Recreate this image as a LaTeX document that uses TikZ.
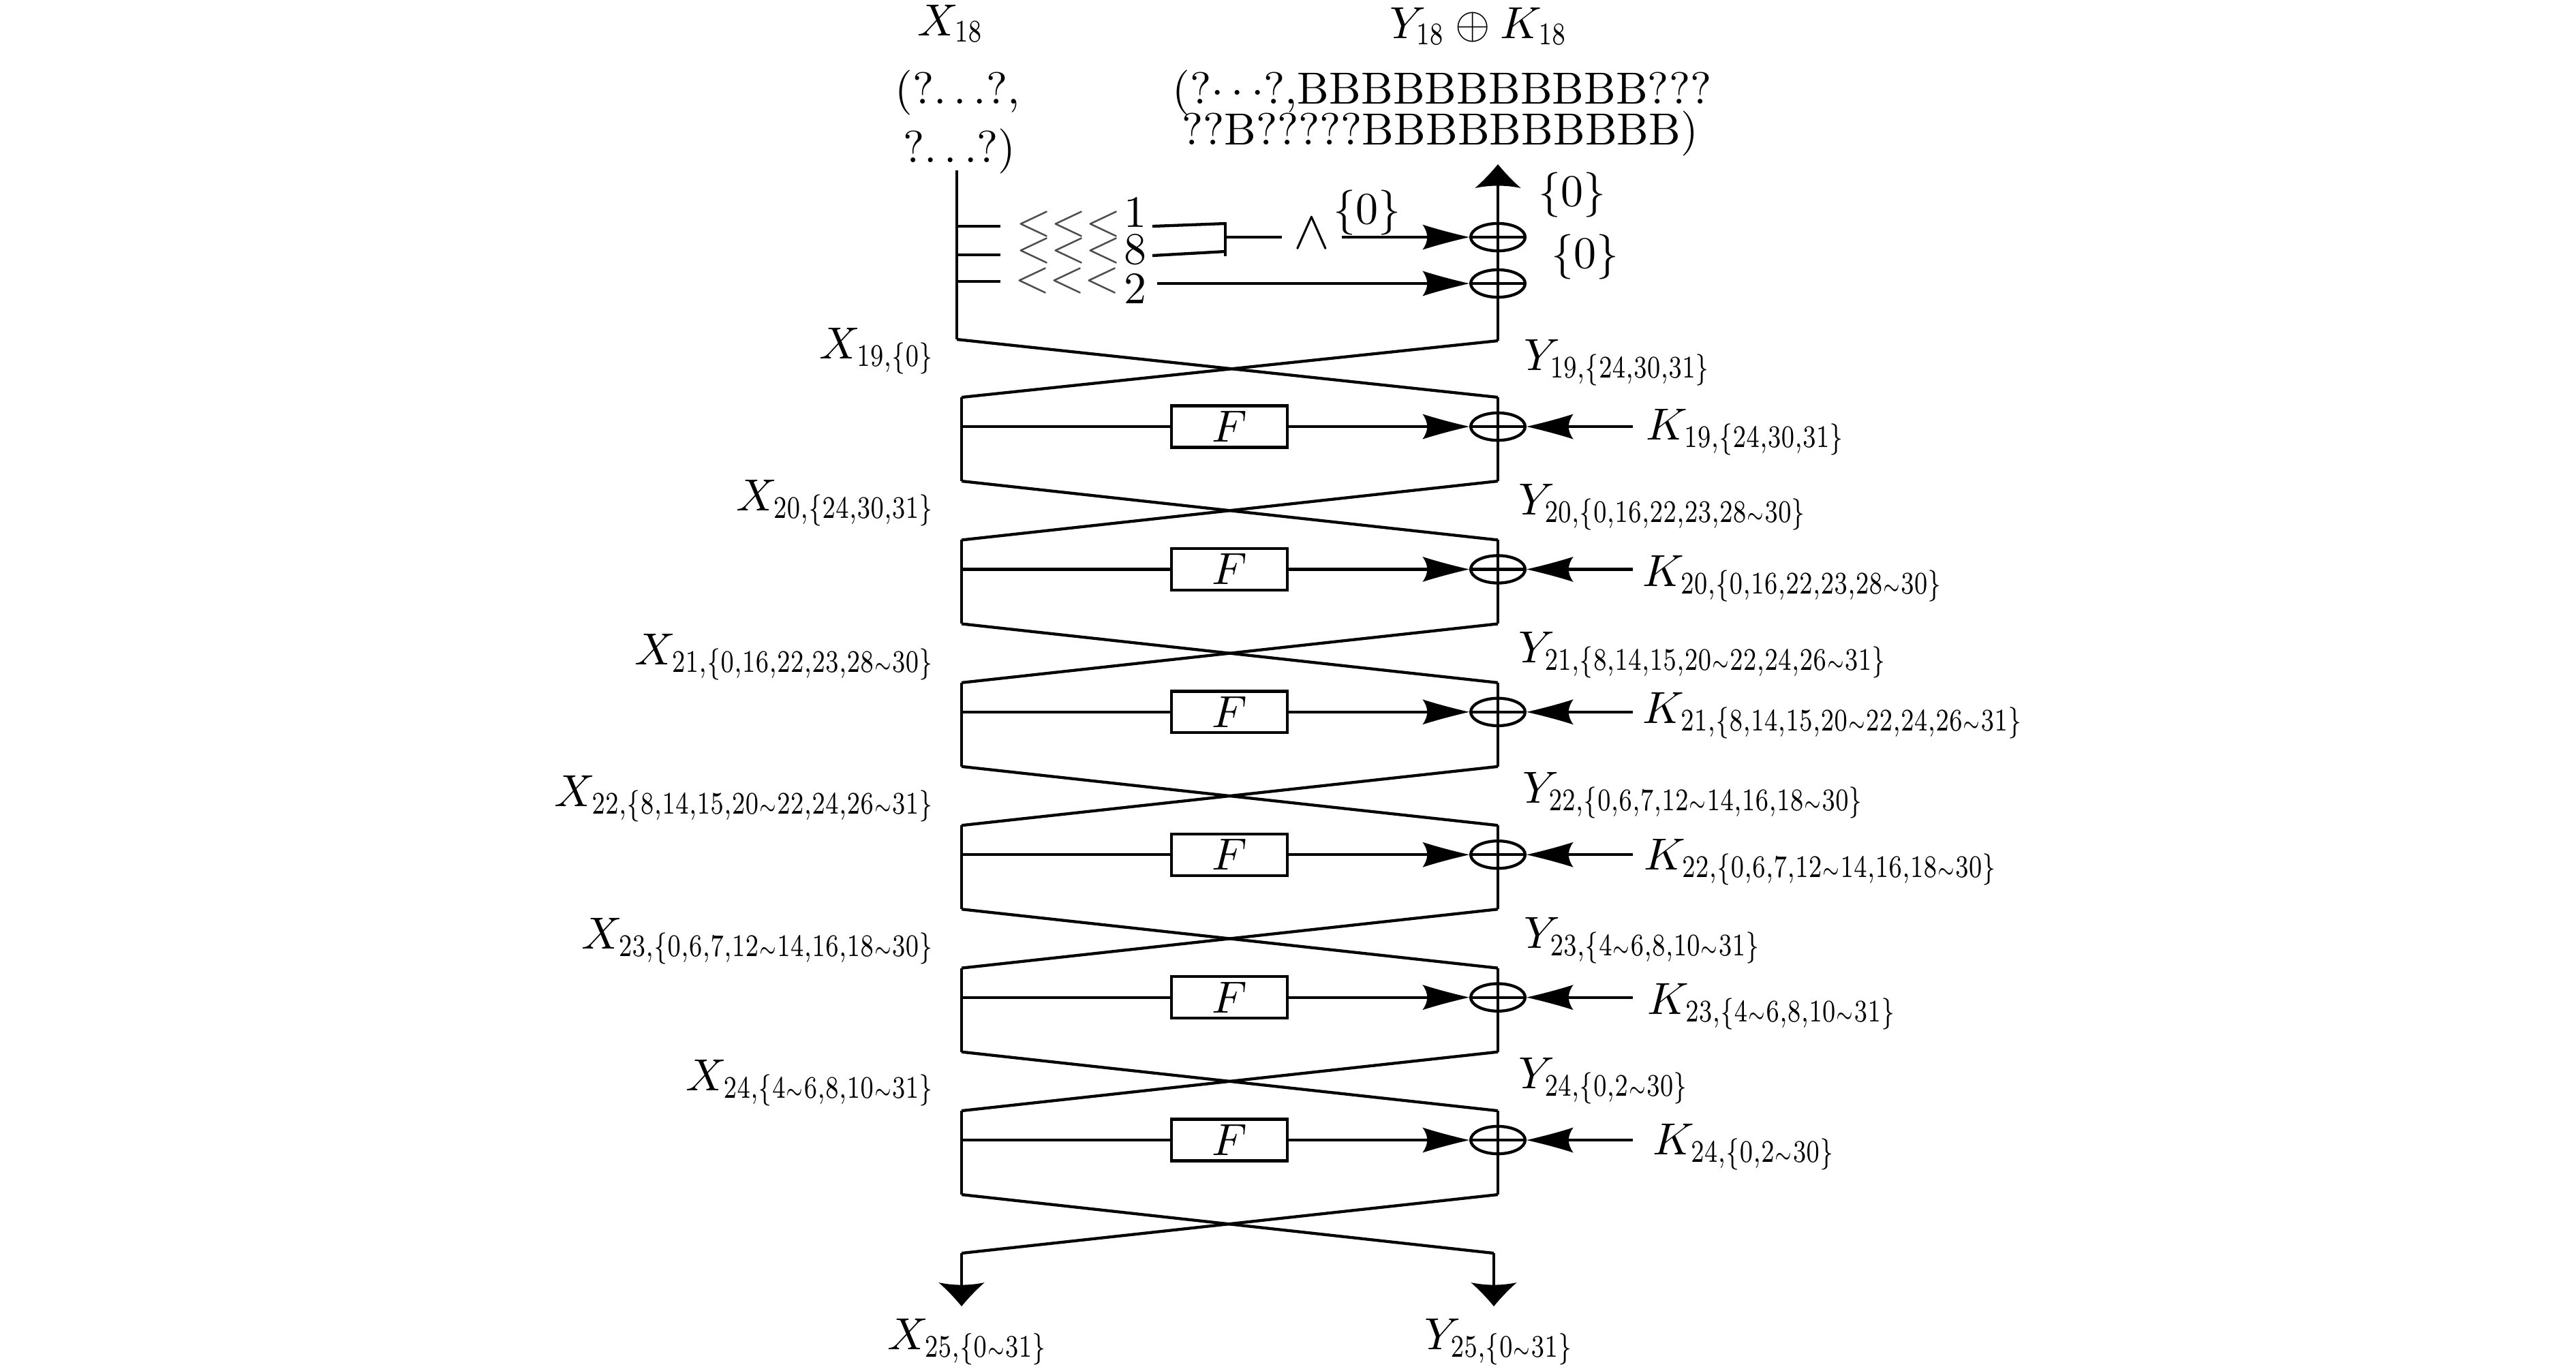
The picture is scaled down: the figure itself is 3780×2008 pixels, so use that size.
\documentclass[tikz,border=0pt]{standalone}
\usepackage{graphicx}
\usetikzlibrary{arrows.meta,shapes.geometric}

\pgfdeclarearrow{
  name = Barb,
  parameters = {\the\pgfarrowlength,\the\pgfarrowwidth},
  setup code = {
    \pgfarrowssettipend{0pt}
    \pgfarrowssetlineend{-0.6\pgfarrowlength}
    \pgfarrowssetvisualbackend{-0.9\pgfarrowlength}
    \pgfarrowssetbackend{-\pgfarrowlength}
    \pgfarrowshullpoint{0pt}{0pt}
    \pgfarrowsupperhullpoint{-\pgfarrowlength}{0.5\pgfarrowwidth}
    \pgfarrowssavethe\pgfarrowlength
    \pgfarrowssavethe\pgfarrowwidth
  },
  drawing code = {
    \pgfpathmoveto{\pgfqpoint{0pt}{0pt}}
    \pgfpathcurveto{\pgfqpoint{-0.4\pgfarrowlength}{0.17\pgfarrowwidth}}{\pgfqpoint{-0.75\pgfarrowlength}{0.35\pgfarrowwidth}}{\pgfqpoint{-\pgfarrowlength}{0.5\pgfarrowwidth}}
    \pgfpathquadraticcurveto{\pgfqpoint{-0.8\pgfarrowlength}{0pt}}{\pgfqpoint{-\pgfarrowlength}{-0.5\pgfarrowwidth}}
    \pgfpathcurveto{\pgfqpoint{-0.75\pgfarrowlength}{-0.35\pgfarrowwidth}}{\pgfqpoint{-0.4\pgfarrowlength}{-0.17\pgfarrowwidth}}{\pgfqpoint{0pt}{0pt}}
    \pgfpathclose
    \pgfusepathqfill
  },
  defaults = {length=5pt, width=3pt}
}

\newcommand\mysub[1]{\scalebox{0.75}[1]{$\scriptstyle #1$}}
\newcommand\mytl{{\scriptscriptstyle\sim}}

\begin{document}
\begin{tikzpicture}[x=0.15152pt, y=-0.15152pt, line width=0.65pt,
  lab/.style={inner sep=0pt},
  chev/.style={inner sep=0pt, text=black!70},
  fbox/.style={draw, minimum width=25.8pt, minimum height=9.24pt, inner sep=0pt},
  xor/.style={draw, ellipse, minimum width=12.1pt, minimum height=6.1pt, inner sep=0pt},
  harr/.style={-{Barb[length=10.4pt,width=5.6pt]}},
  varr/.style={-{Barb[length=5.3pt,width=10.2pt]}}]
\useasboundingbox (0,0) rectangle (3780,2008);

% ---- top part ----
\node[lab, anchor=base] (x18) at (1395,52) {$X_{\mysub{18}}$};
\node[lab, anchor=base] (x18a) at (1405,152) {(?$\ldots$?,};
\node[lab, anchor=base] (x18b) at (1408,238) {?$\ldots$?)};
\node[lab, anchor=base] (y18) at (2170,56) {$Y_{\mysub{18}}\oplus K_{\mysub{18}}$};
\node[lab, anchor=base] (y18a) at (2116,152) {(?$\cdots$?,BBBBBBBBBBB???};
\node[lab, anchor=base] (y18b) at (2113,212) {??B?????BBBBBBBBBB)};

\coordinate (X18top) at (1404,250);
\coordinate (X18bot) at (1404,498);
\draw (X18top) -- (X18bot);
\coordinate (t1) at (1404,332); \coordinate (t1e) at (1468,332);
\coordinate (t2) at (1404,374); \coordinate (t2e) at (1468,374);
\coordinate (t3) at (1404,413); \coordinate (t3e) at (1468,413);
\draw (t1) -- (t1e);
\draw (t2) -- (t2e);
\draw (t3) -- (t3e);

\node[chev] (c1) at (1568,328.5) {$<<<$};
\node[chev] (c2) at (1568,367.5) {$<<<$};
\node[chev] (c3) at (1566,411.5) {$<<<$};
\node[lab, anchor=base] (d1) at (1666,333) {1};
\node[lab, anchor=base] (d2) at (1666,387) {8};
\node[lab, anchor=base] (d3) at (1666,445) {2};

\coordinate (b1s) at (1691,332); \coordinate (b1e) at (1798,328);
\coordinate (b2s) at (1691,375); \coordinate (b2e) at (1798,369);
\coordinate (bt) at (1798,326); \coordinate (bb) at (1798,376);
\coordinate (brk) at (1798,348);
\draw (b1s) -- (b1e);
\draw (b2s) -- (b2e);
\draw (bt) -- (bb);

\node[lab, font=\large, inner xsep=2.4pt] (and) at (1925,342) {$\wedge$};
\node[xor] (XT1) at (2198,348) {};
\node[xor] (XT2) at (2198,416) {};
\draw (brk) -- (brk -| and.west);
\draw[harr] (and.east |- brk) -- (XT1.west);
\coordinate (two) at (1698,416);
\draw[harr] (two) -- (XT2.west);
\draw (XT1.west) -- (XT1.east);
\draw (XT2.west) -- (XT2.east);

\node[lab] (z1) at (2006,312) {$\{0\}$};
\node[lab] (z2) at (2307,286) {$\{0\}$};
\node[lab] (z3) at (2326,377) {$\{0\}$};

\coordinate (R0) at (2198,500);
\coordinate (up) at (2198,241);
\draw[varr] (R0) -- (up);

% ---- rounds ----
\foreach \k in {0,...,5}{
  \pgfmathsetmacro\T{583+209.4*\k}
  \pgfmathsetmacro\Y{626+209.4*\k}
  \pgfmathsetmacro\B{706+209.4*\k}
  \coordinate (LT\k) at (1411,\T);
  \coordinate (LB\k) at (1411,\B);
  \coordinate (RT\k) at (2198,\T);
  \coordinate (RB\k) at (2198,\B);
  \coordinate (LF\k) at (1411,\Y);
  \coordinate (KS\k) at (2396,\Y);
  \node[fbox] (F\k) at (1804,\Y) {$F$};
  \node[xor] (X\k) at (2198,\Y) {};
  \draw (LT\k) -- (LB\k);
  \draw (RT\k) -- (RB\k);
  \draw (LF\k) -- (F\k.west);
  \draw[harr] (F\k.east) -- (X\k.west);
  \draw[harr] (KS\k) -- (X\k.east);
  \draw (X\k.west) -- (X\k.east);
}

% top cross
\draw (X18bot) -- (RT0);
\draw (R0) -- (LT0);
% crosses between rounds
\foreach \k [evaluate=\k as \j using int(\k+1)] in {0,...,4}{
  \draw (LB\k) -- (RT\j);
  \draw (RB\k) -- (LT\j);
}
% final cross and outputs
\coordinate (LE) at (1411,1839);
\coordinate (RE) at (2192,1839);
\coordinate (LO) at (1411,1917);
\coordinate (RO) at (2192,1917);
\draw (LB5) -- (RE);
\draw (RB5) -- (LE);
\draw[varr] (LE) -- (LO);
\draw[varr] (RE) -- (RO);
\node[lab, anchor=base] (x25) at (1420,1980) {$X_{\mysub{25,\{0\mytl31\}}}$};
\node[lab, anchor=base] (y25) at (2200,1980) {$Y_{\mysub{25,\{0\mytl31\}}}$};

% ---- left labels ----
\node[lab, anchor=base east] (lx19) at (1374,526) {$X_{\mysub{19,\{0\}}}$};
\node[lab, anchor=base east] (lx20) at (1374,749) {$X_{\mysub{20,\{24,30,31\}}}$};
\node[lab, anchor=base east] (lx21) at (1374,975) {$X_{\mysub{21,\{0,16,22,23,28\mytl30\}}}$};
\node[lab, anchor=base east] (lx22) at (1374,1183) {$X_{\mysub{22,\{8,14,15,20\mytl22,24,26\mytl31\}}}$};
\node[lab, anchor=base east] (lx23) at (1374,1392) {$X_{\mysub{23,\{0,6,7,12\mytl14,16,18\mytl30\}}}$};
\node[lab, anchor=base east] (lx24) at (1374,1600) {$X_{\mysub{24,\{4\mytl6,8,10\mytl31\}}}$};

% ---- right Y labels ----
\node[lab, anchor=base west] (ly19) at (2234,543) {$Y_{\mysub{19,\{24,30,31\}}}$};
\node[lab, anchor=base west] (ly20) at (2226,755) {$Y_{\mysub{20,\{0,16,22,23,28\mytl30\}}}$};
\node[lab, anchor=base west] (ly21) at (2226,972) {$Y_{\mysub{21,\{8,14,15,20\mytl22,24,26\mytl31\}}}$};
\node[lab, anchor=base west] (ly22) at (2232,1178) {$Y_{\mysub{22,\{0,6,7,12\mytl14,16,18\mytl30\}}}$};
\node[lab, anchor=base west] (ly23) at (2234,1391) {$Y_{\mysub{23,\{4\mytl6,8,10\mytl31\}}}$};
\node[lab, anchor=base west] (ly24) at (2226,1597) {$Y_{\mysub{24,\{0,2\mytl30\}}}$};

% ---- K labels ----
\node[lab, anchor=base west] (lk19) at (2413,645) {$K_{\mysub{19,\{24,30,31\}}}$};
\node[lab, anchor=base west] (lk20) at (2408,860) {$K_{\mysub{20,\{0,16,22,23,28\mytl30\}}}$};
\node[lab, anchor=base west] (lk21) at (2408,1061) {$K_{\mysub{21,\{8,14,15,20\mytl22,24,26\mytl31\}}}$};
\node[lab, anchor=base west] (lk22) at (2410,1276) {$K_{\mysub{22,\{0,6,7,12\mytl14,16,18\mytl30\}}}$};
\node[lab, anchor=base west] (lk23) at (2415,1488) {$K_{\mysub{23,\{4\mytl6,8,10\mytl31\}}}$};
\node[lab, anchor=base west] (lk24) at (2423,1694) {$K_{\mysub{24,\{0,2\mytl30\}}}$};
\end{tikzpicture}
\end{document}
